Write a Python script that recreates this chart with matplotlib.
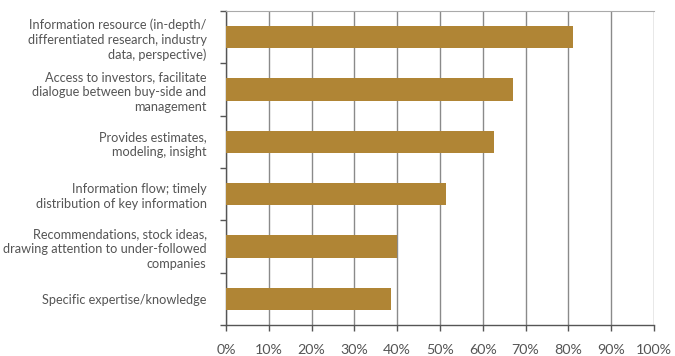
import matplotlib
matplotlib.use("Agg")
import matplotlib.pyplot as plt
from matplotlib.ticker import FixedLocator

# data, top to bottom
labels = [
    "Information resource (in-depth/\ndifferentiated research, industry\ndata, perspective)",
    "Access to investors, facilitate\ndialogue between buy-side and\nmanagement",
    "Provides estimates,\nmodeling, insight",
    "Information flow; timely\ndistribution of key information",
    "Recommendations, stock ideas,\ndrawing attention to under-followed\ncompanies",
    "Specific expertise/knowledge",
]
values = [81, 67, 62.5, 51.5, 40, 38.5]
xticks = [0, 10, 20, 30, 40, 50, 60, 70, 80, 90, 100]

plt.rcParams['font.family'] = ['Lato', 'DejaVu Sans']
txt_col = '#555555'
bar_col = '#B08535'

fig = plt.figure(figsize=(6.75, 3.56), dpi=100)
ax = fig.add_axes([0.3348, 0.0871, 0.9689 - 0.3348, 0.9691 - 0.0871])

n = len(labels)
pos = list(range(n))[::-1]
ax.barh(pos, values, height=0.43, color=bar_col, zorder=3)

ax.set_xlim(0, 100)
ax.set_ylim(-0.5, n - 0.5)

ax.set_xticks(xticks)
ax.set_xticklabels([f"{t}%" for t in xticks], fontsize=10.3, color=txt_col)
ax.set_yticks(pos)
ax.set_yticklabels(labels, fontsize=9.2, color=txt_col, linespacing=1.3)
ax.yaxis.set_minor_locator(FixedLocator([p + 0.5 for p in range(-1, n)]))

ax.tick_params(axis='y', which='major', length=0, pad=14)
ax.tick_params(axis='y', which='minor', length=4, color='#555555', width=1)
ax.tick_params(axis='x', length=4, color='#555555', width=1, pad=10)

ax.grid(axis='x', color='#8a8a8a', linewidth=1, zorder=0)
for s in ['left', 'bottom']:
    ax.spines[s].set_color('#555555')
    ax.spines[s].set_linewidth(1)
ax.spines['top'].set_color('#aaaaaa')
ax.spines['right'].set_visible(False)

fig.savefig("out.png", dpi=100)
